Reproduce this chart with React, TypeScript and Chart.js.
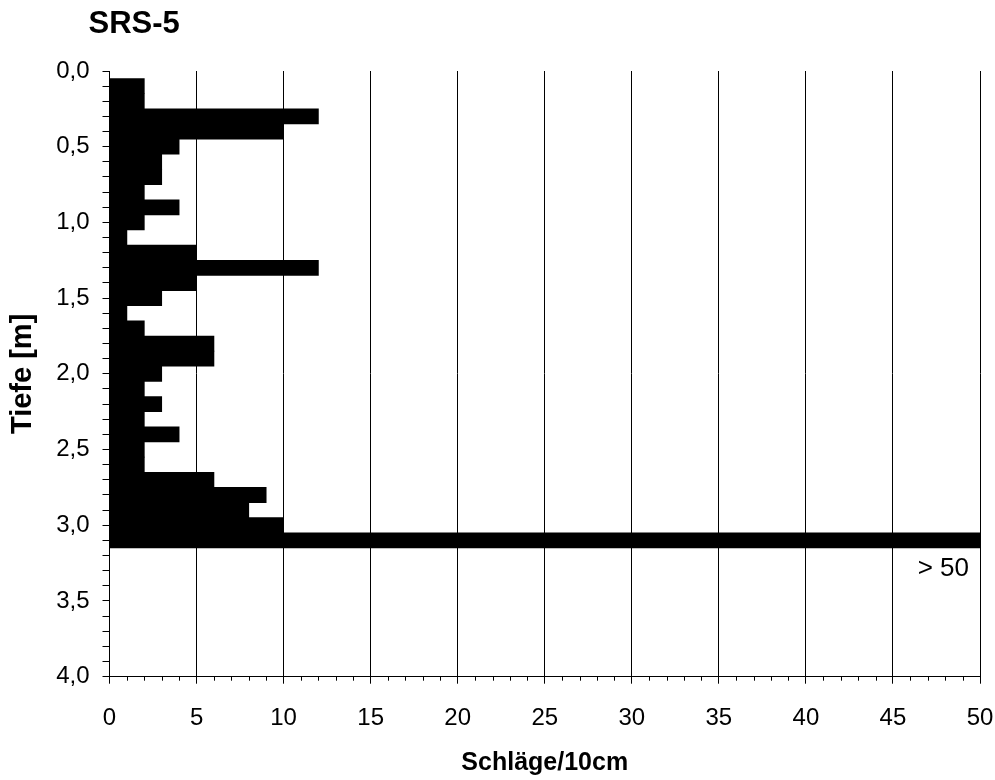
import React, { useEffect, useRef } from 'react';
import { Chart, registerables } from 'chart.js';

Chart.register(...registerables);

// Depth (m) of each 10 cm interval centre
const depths = [
  0.1, 0.2, 0.3, 0.4, 0.5, 0.6, 0.7, 0.8, 0.9, 1.0,
  1.1, 1.2, 1.3, 1.4, 1.5, 1.6, 1.7, 1.8, 1.9, 2.0,
  2.1, 2.2, 2.3, 2.4, 2.5, 2.6, 2.7, 2.8, 2.9, 3.0,
  3.1,
];
// Blows per 10 cm
const blows = [
  2, 2, 12, 10, 4, 3, 3, 2, 4, 2,
  1, 5, 12, 5, 3, 1, 2, 6, 6, 3,
  2, 3, 2, 4, 2, 2, 6, 9, 8, 10,
  50,
];
const xMajorStep = 5;
const xMin = 0;
const xMax = 50;
const yMin = 0;
const yMax = 4;
const yLabelStep = 0.5;

const chartTitle = 'SRS-5';
const xTitle = 'Schläge/10cm';
const yTitle = 'Tiefe [m]';
const overflowLabel = '> 50';
const overflowDepth = 3.1;

const FONT = "'Liberation Sans', Arial, Helvetica, sans-serif";

const extrasPlugin = {
  id: 'extras',
  afterDraw(chart: any) {
    const ctx = chart.ctx;
    const xs = chart.scales.x;
    const ys = chart.scales.y;
    ctx.save();
    // minor ticks on x axis
    ctx.strokeStyle = '#000';
    ctx.lineWidth = 1;
    ctx.beginPath();
    for (let v = xMin; v <= xMax; v++) {
      if (v % xMajorStep === 0) continue;
      const px = Math.round(xs.getPixelForValue(v)) + 0.5;
      ctx.moveTo(px, ys.bottom);
      ctx.lineTo(px, ys.bottom + 4);
    }
    ctx.stroke();
    // title
    ctx.fillStyle = '#000';
    ctx.font = `bold 31px ${FONT}`;
    ctx.textAlign = 'left';
    ctx.textBaseline = 'alphabetic';
    ctx.fillText(chartTitle, chart.chartArea.left - 21, 33);
    // overflow label
    ctx.font = `26px ${FONT}`;
    ctx.textAlign = 'right';
    ctx.textBaseline = 'middle';
    ctx.fillText(
      overflowLabel,
      xs.getPixelForValue(xMax) - 11,
      ys.getPixelForValue(overflowDepth + 0.05) + 21
    );
    ctx.restore();
  },
};

export default function App() {
  const ref = useRef<HTMLCanvasElement | null>(null);

  useEffect(() => {
    if (!ref.current) return;
    const data = depths.map((d, i) => ({ x: blows[i], y: d }));
    const chart = new Chart(ref.current, {
      type: 'bar',
      data: {
        datasets: [
          {
            data: data as any,
            backgroundColor: '#000',
            borderWidth: 0,
            barPercentage: 1,
            categoryPercentage: 1,
          },
        ],
      },
      plugins: [extrasPlugin],
      options: {
        indexAxis: 'y',
        animation: false,
        responsive: false,
        maintainAspectRatio: false,
        layout: { padding: { top: 71, right: 15, left: 0, bottom: 0 } },
        plugins: {
          legend: { display: false },
          tooltip: { enabled: false },
          title: { display: false },
        },
        scales: {
          x: {
            type: 'linear',
            position: 'bottom',
            min: xMin,
            max: xMax,
            offset: false,
            afterFit: (s: any) => {
              s.height = 103.3;
              s.paddingLeft = 0;
              s.paddingRight = 0;
            },
            ticks: {
              stepSize: 1,
              autoSkip: false,
              maxRotation: 0,
              maxTicksLimit: 200,
              padding: 20,
              color: '#000',
              font: { family: FONT, size: 24 },
              callback: (v: any) => (Number(v) % xMajorStep === 0 ? String(v) : ''),
            },
            grid: {
              offset: false,
              drawOnChartArea: true,
              drawTicks: true,
              tickLength: 7,
              lineWidth: 1,
              color: (c: any) =>
                c.tick && c.tick.value % xMajorStep === 0 ? '#000' : 'rgba(0,0,0,0)',
              tickColor: (c: any) =>
                c.tick && c.tick.value % xMajorStep === 0 ? '#000' : 'rgba(0,0,0,0)',
            },
            border: { display: true, color: '#000', width: 1 },
            title: {
              display: true,
              text: xTitle,
              color: '#000',
              font: { family: FONT, size: 25, weight: 'bold' },
              padding: { top: 0, bottom: 2 },
            },
          },
          y: {
            type: 'linear',
            position: 'left',
            reverse: true,
            min: yMin,
            max: yMax,
            offset: false,
            afterFit: (s: any) => {
              s.width = 109.5;
            },
            ticks: {
              stepSize: 0.1,
              autoSkip: false,
              maxTicksLimit: 200,
              padding: 13,
              color: '#000',
              font: { family: FONT, size: 24 },
              callback: (v: any) => {
                const n = Number(v);
                const t = Math.round(n * 10);
                return t % Math.round(yLabelStep * 10) === 0
                  ? n.toFixed(1).replace('.', ',')
                  : '';
              },
            },
            grid: {
              offset: false,
              drawOnChartArea: false,
              drawTicks: true,
              tickLength: 7,
              color: '#000',
              tickColor: '#000',
            },
            border: { display: true, color: '#000', width: 1 },
            title: {
              display: true,
              text: yTitle,
              color: '#000',
              font: { family: FONT, size: 29, weight: 'bold' },
              padding: { top: 6, bottom: 0 },
            },
          },
        },
      } as any,
    });
    return () => chart.destroy();
  }, []);

  return (
    <div style={{ position: 'fixed', left: 0, top: 0, width: 995, height: 780, background: '#fff' }}>
      <canvas ref={ref} width={995} height={780} style={{ width: 995, height: 780 }} />
    </div>
  );
}
